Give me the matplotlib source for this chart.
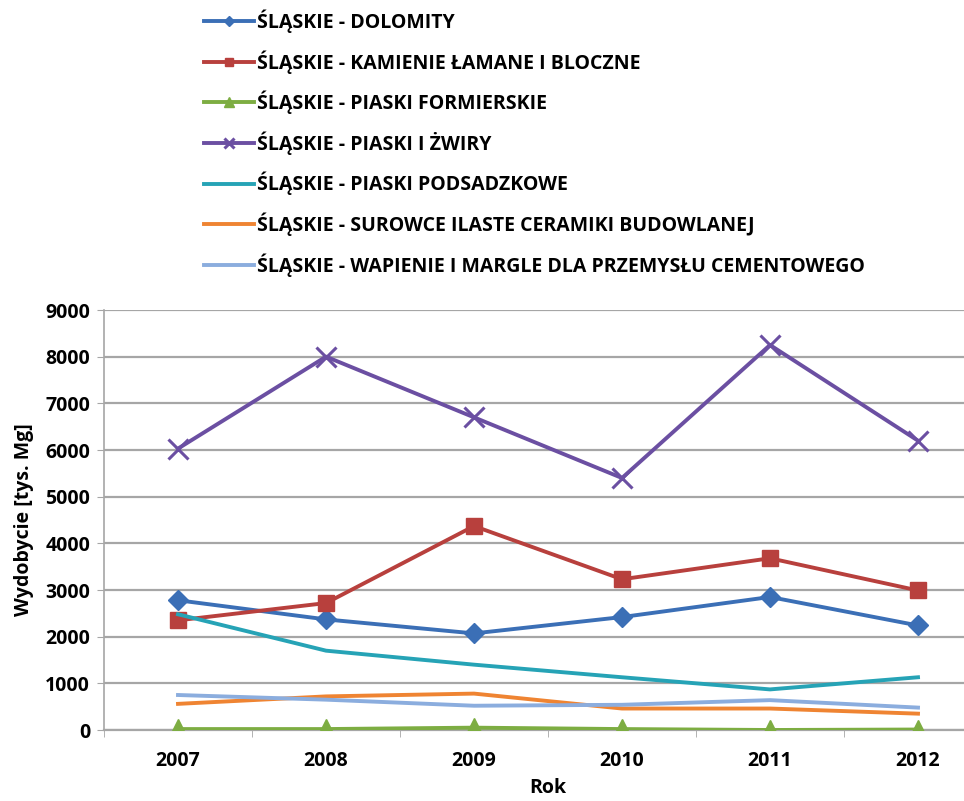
import numpy as np
import matplotlib
matplotlib.use('Agg')
import matplotlib.pyplot as plt

plt.rcParams['font.family'] = ['Open Sans', 'DejaVu Sans']

years = ['2007', '2008', '2009', '2010', '2011', '2012']
labels = ['ŚLĄSKIE - DOLOMITY',
          'ŚLĄSKIE - KAMIENIE ŁAMANE I BLOCZNE',
          'ŚLĄSKIE - PIASKI FORMIERSKIE',
          'ŚLĄSKIE - PIASKI I ŻWIRY',
          'ŚLĄSKIE - PIASKI PODSADZKOWE',
          'ŚLĄSKIE - SUROWCE ILASTE CERAMIKI BUDOWLANEJ',
          'ŚLĄSKIE - WAPIENIE I MARGLE DLA PRZEMYSŁU CEMENTOWEGO']
dolomity = [2780, 2370, 2070, 2420, 2850, 2240]
kamienie = [2350, 2720, 4370, 3230, 3680, 2990]
formierskie = [20, 20, 50, 20, 0, 10]
zwiry = [6030, 8000, 6700, 5400, 8250, 6200]
podsadzkowe = [2480, 1700, 1400, 1130, 870, 1130]
ilaste = [560, 720, 780, 460, 460, 350]
wapienie = [750, 650, 520, 540, 640, 480]

series = [dolomity, kamienie, formierskie, zwiry, podsadzkowe, ilaste, wapienie]
colors = ['#3b6fb6', '#b8403d', '#7dad42', '#6b4fa2', '#26a3b6', '#ef8432', '#8badde']
markers = ['D', 's', '^', 'x', None, None, None]
msizes = [10.5, 11, 15, 15, 0, 0, 0]

fig = plt.figure(figsize=(9.64, 8.01), dpi=100)
ax = fig.add_axes([104/964, 1 - 730/801, 888/964, 420/801])

x = np.arange(len(years))
handles = []
for vals, c, m, ms, lab in zip(series, colors, markers, msizes, labels):
    h, = ax.plot(x, vals, color=c, lw=2.8, marker=m, ms=ms, mew=2.2 if m == 'x' else 1,
                 label=lab, zorder=3)
    handles.append(h)

ax.set_xlim(-0.5, 5.5)
ax.set_ylim(0, 9000)
ax.set_yticks(range(0, 9001, 1000))
ax.set_xticks(x)
ax.set_xticklabels(years)
ax.yaxis.grid(True, color='#a6a6a6', lw=1.6)
ax.set_axisbelow(True)
for s in ['top', 'right']:
    ax.spines[s].set_visible(False)
ax.spines['left'].set_color('#a6a6a6')
ax.spines['bottom'].set_color('#a6a6a6')
ax.spines['left'].set_linewidth(1.2)
ax.spines['bottom'].set_linewidth(1.6)
ax.tick_params(axis='y', length=5, color='#a6a6a6', labelsize=14, pad=5)
ax.tick_params(axis='x', length=0, labelsize=14, pad=15)
for t in ax.get_xticklabels() + ax.get_yticklabels():
    t.set_fontweight('bold')
ax.set_xticks(np.arange(-0.5, 5.6, 1), minor=True)
ax.tick_params(axis='x', which='minor', length=5, color='#a6a6a6')
ax.set_xlabel('Rok', fontsize=14, fontweight='bold', labelpad=5)
ax.set_ylabel('Wydobycie [tys. Mg]', fontsize=14, fontweight='bold', labelpad=8)

fig.legend(handles=handles, loc='upper left', bbox_to_anchor=(186/964, 1 + 8/801),
           frameon=False, prop={'weight': 'bold', 'size': 14},
           handlelength=2.6, handletextpad=0.15, labelspacing=0.88, markerscale=0.5)

fig.savefig('out.png', dpi=100)
